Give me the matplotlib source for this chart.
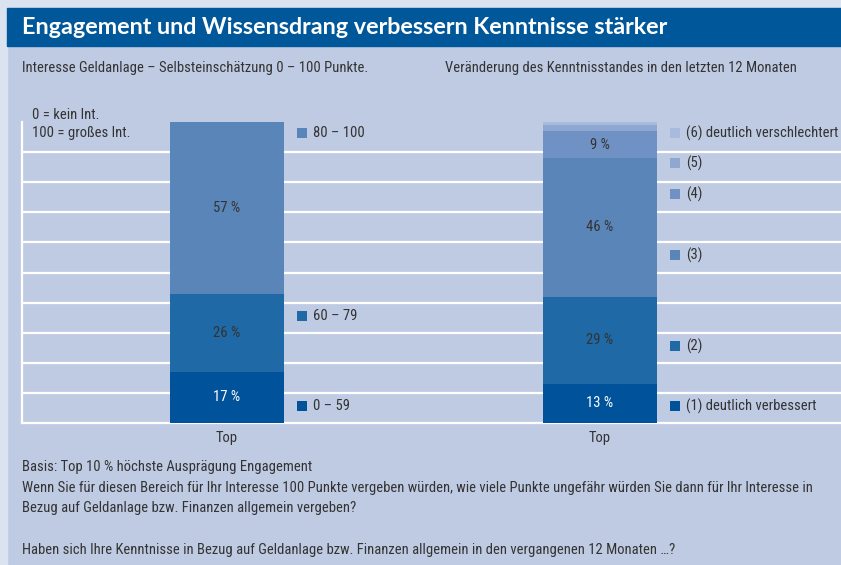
import matplotlib
matplotlib.use('Agg')
import matplotlib.pyplot as plt
from matplotlib import font_manager
from matplotlib.patches import Rectangle

# Data
charts = ['Interesse', 'Kenntnisse']
left_labels = ['0 – 59', '60 – 79', '80 – 100']
left_values = [17, 26, 57]
right_labels = ['(1) deutlich verbessert', '(2)', '(3)', '(4)', '(5)',
                '(6) deutlich verschlechtert']
right_values = [13, 29, 46, 9, 2, 2]
tick_labels = ['Top', 'Top']

title = 'Engagement und Wissensdrang verbessern Kenntnisse stärker'
sub_left = 'Interesse Geldanlage – Selbsteinschätzung 0 – 100 Punkte.'
sub_right = 'Veränderung des Kenntnisstandes in den letzten 12 Monaten'
footnotes = [
    'Basis: Top 10 % höchste Ausprägung Engagement',
    'Wenn Sie für diesen Bereich für Ihr Interesse 100 Punkte vergeben würden, '
    'wie viele Punkte ungefähr würden Sie dann für Ihr Interesse in',
    'Bezug auf Geldanlage bzw. Finanzen allgemein vergeben?',
    '',
    'Haben sich Ihre Kenntnisse in Bezug auf Geldanlage bzw. Finanzen allgemein '
    'in den vergangenen 12 Monaten …?',
]

# Styles / layout
BG = '#bfcbe3'
LIGHT = '#dbe2f0'
TITLE_BG = '#00579a'
TEXT = '#333333'
blues = ['#00539b', '#1f69a6', '#5a85b8', '#6f91c3', '#8ea8d2', '#a8bbdf']
left_colors = blues[:3]
right_colors = blues
label_colors_left = ['white', TEXT, TEXT]
label_colors_right = ['white', TEXT, TEXT, TEXT, TEXT, TEXT]
# legend anchor heights (axis units 0-100)
left_legend_y = [5.6, 35.5, 96.3]
right_legend_y = [5.6, 25.6, 55.8, 76.0, 86.4, 96.3]

W, H = 841, 565

available = {f.name for f in font_manager.fontManager.ttflist}
font = 'DejaVu Sans'
for name in ['Liberation Sans Narrow', 'Roboto Condensed', 'DejaVu Sans Condensed']:
    if name in available:
        font = name
        break
title_font = 'Lato' if 'Lato' in available else font
plt.rcParams['font.family'] = [font, 'DejaVu Sans']

fig = plt.figure(figsize=(W / 100, H / 100), dpi=100)
fig.patch.set_facecolor(BG)

# background strips and title bar
fig.patches.append(Rectangle((0, 0), 7 / W, 1, transform=fig.transFigure,
                             color=LIGHT, zorder=0))
fig.patches.append(Rectangle((0, 1 - 8 / H), 1, 8 / H, transform=fig.transFigure,
                             color=LIGHT, zorder=0))
fig.patches.append(Rectangle((7 / W, 1 - 46 / H), 1 - 7 / W, 38 / H,
                             transform=fig.transFigure, color=TITLE_BG, zorder=1))
fig.text(22 / W, 1 - 34 / H, title, color='white', fontsize=16.8,
         fontweight='bold', va='baseline', ha='left',
         family=[title_font, 'DejaVu Sans'])

fig.text(22 / W, 1 - 68 / H, sub_left, color=TEXT, fontsize=10.5, va='center')
fig.text(445 / W, 1 - 68 / H, sub_right, color=TEXT, fontsize=10.5, va='center')
fig.text(32 / W, 1 - 115 / H, '0 = kein Int.', color=TEXT, fontsize=10.5, va='center')
fig.text(32 / W, 1 - 133 / H, '100 = großes Int.', color=TEXT, fontsize=10.5,
         va='center')

for i, line in enumerate(footnotes):
    fig.text(22 / W, 1 - (467 + 20.7 * i) / H, line, color=TEXT, fontsize=10.5,
             va='center')

# chart area
ax = fig.add_axes([22 / W, (H - 423) / H, (W - 22) / W, 301 / H])
ax.set_facecolor('none')
ax.set_xlim(-0.5496, 1.646)
ax.set_ylim(0, 100)

bar_w = 0.308
px = 1 / 373  # one pixel in x data units


def stacked(x, values, colors, label_colors, labels, legend_y):
    bottom = 0
    for v, c, lc in zip(values, colors, label_colors):
        ax.bar(x, v, width=bar_w, bottom=bottom, color=c, linewidth=0, zorder=3)
        if v >= 5:
            ax.text(x, bottom + v / 2, f'{v} %', ha='center', va='center',
                    color=lc, fontsize=10.5, zorder=4)
        bottom += v
    for lab, c, y in zip(labels, colors, legend_y):
        ax.scatter(x + bar_w / 2 + 18 * px, y, marker='s', s=60, color=c,
                   linewidths=0, zorder=4, clip_on=False)
        ax.text(x + bar_w / 2 + 29 * px, y, lab, ha='left', va='center',
                color=TEXT, fontsize=10.5, zorder=4)


stacked(0, left_values, left_colors, label_colors_left, left_labels, left_legend_y)
stacked(1, right_values, right_colors, label_colors_right, right_labels,
        right_legend_y)

ax.set_yticks(range(10, 100, 10))
ax.yaxis.grid(True, color='white', linewidth=1.6, zorder=1)
ax.set_axisbelow(True)
for s in ['top', 'right']:
    ax.spines[s].set_visible(False)
for s in ['left', 'bottom']:
    ax.spines[s].set_color('white')
    ax.spines[s].set_linewidth(1.6)
    ax.spines[s].set_zorder(2)
ax.tick_params(axis='y', length=0, labelleft=False)
ax.tick_params(axis='x', length=0, pad=6, labelsize=10.5, labelcolor=TEXT)
ax.set_xticks(range(len(charts)))
ax.set_xticklabels(tick_labels)

fig.savefig('out.png', dpi=100, facecolor=BG)
